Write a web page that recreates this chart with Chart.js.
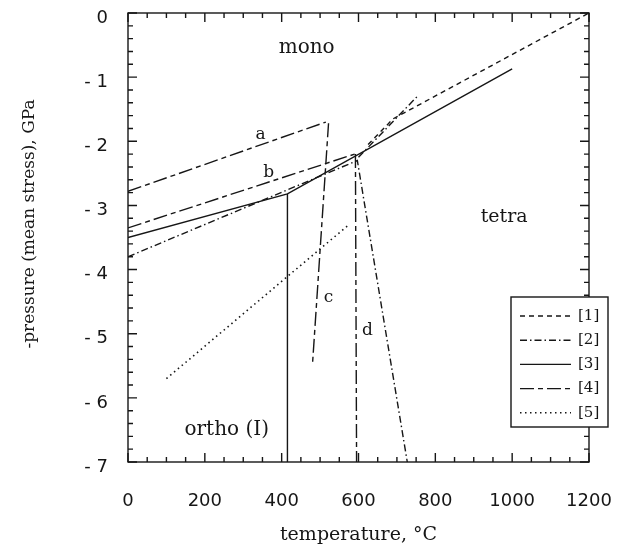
<!DOCTYPE html>
<html>
<head>
<meta charset="utf-8">
<title>Phase diagram</title>
<script src="https://cdn.jsdelivr.net/npm/chart.js@4.4.1/dist/chart.umd.min.js"></script>
<style>
  html, body { margin: 0; padding: 0; background: #fff; }
  #wrap { position: relative; width: 623px; height: 552px; }
</style>
</head>
<body>
<div id="wrap"><canvas id="chart" width="623" height="552"></canvas></div>
<script>
/* ------------------------------------------------------------
   Phase boundaries: temperature (°C) vs -pressure (GPa)
   ------------------------------------------------------------ */

// [1] short dashes
const line1Temp  = [625, 690, 1200];
const line1Press = [-2.05, -1.65, 0];

// [2] dash-dot (lower branch + upper branch)
const line2LowTemp  = [0, 597, 727];
const line2LowPress = [-3.8, -2.3, -7];
const line2UpTemp   = [600, 753];
const line2UpPress  = [-2.25, -1.3];

// [3] solid
const line3Temp      = [0, 415, 1000];
const line3Press     = [-3.5, -2.82, -0.87];
const line3VertTemp  = [415, 415];
const line3VertPress = [-2.82, -7];

// [4] long dash (branches a, b, c, d)
const line4aTemp  = [0, 515];
const line4aPress = [-2.78, -1.7];
const line4bTemp  = [0, 590];
const line4bPress = [-3.35, -2.2];
const line4cTemp  = [522, 480];
const line4cPress = [-1.72, -5.5];
const line4dTemp  = [592, 595];
const line4dPress = [-2.2, -7];

// [5] dotted
const line5Temp  = [100, 575];
const line5Press = [-5.7, -3.3];

// axes
const xTicks = [0, 200, 400, 600, 800, 1000, 1200];
const yTicks = [0, -1, -2, -3, -4, -5, -6, -7];
const legendLabels = ['[1]', '[2]', '[3]', '[4]', '[5]'];
const yTitle = '-pressure (mean stress), GPa';

const INK = '#161616';
const DASH = {
    1: [5, 4],
    2: [7, 3, 1.5, 3],
    3: [],
    4: [14, 4, 5, 4],
    5: [1.5, 3.5]
};

const toPoints = (xs, ys) => xs.map((x, i) => ({ x: x, y: ys[i] }));

function segment(xs, ys, style) {
    return {
        data: toPoints(xs, ys),
        showLine: true,
        borderColor: INK,
        borderWidth: style === 5 ? 1.6 : 1.4,
        borderDash: DASH[style],
        pointRadius: 0,
        fill: false
    };
}

// text written inside the plot, placed in data units
const annotations = [
    { text: 'mono',      x: 465, y: -0.55, size: 20 },
    { text: 'tetra',     x: 979, y: -3.18, size: 19 },
    { text: 'ortho (I)', x: 257, y: -6.5,  size: 20 },
    { text: 'a',         x: 345, y: -1.9,  size: 17 },
    { text: 'b',         x: 366, y: -2.49, size: 17 },
    { text: 'c',         x: 522, y: -4.44, size: 17 },
    { text: 'd',         x: 623, y: -4.95, size: 17 }
];

// axes keep a fixed size, no extra room for edge labels
function fixedBox(size) {
    return s => {
        if (s.isHorizontal()) s.height = size; else s.width = size;
        s.paddingLeft = s.paddingRight = s.paddingTop = s.paddingBottom = 0;
    };
}

// inward tick marks on all four sides + frame
const framePlugin = {
    id: 'frame',
    afterDatasetsDraw(chart) {
        const { ctx, chartArea: a, scales } = chart;
        ctx.save();
        ctx.strokeStyle = INK;
        ctx.lineWidth = 1.4;
        ctx.setLineDash([]);
        ctx.strokeRect(a.left, a.top, a.right - a.left, a.bottom - a.top);

        ctx.beginPath();
        for (let v = 0; v <= 1200; v += 50) {
            const px = scales.x.getPixelForValue(v);
            const len = v % 200 === 0 ? 9 : 5;
            ctx.moveTo(px, a.bottom); ctx.lineTo(px, a.bottom - len);
            ctx.moveTo(px, a.top);    ctx.lineTo(px, a.top + len);
        }
        for (let i = 0; i <= 35; i++) {
            const v = -i * 0.2;
            const py = scales.y.getPixelForValue(v);
            const len = i % 5 === 0 ? 9 : 5;
            ctx.moveTo(a.left, py);  ctx.lineTo(a.left + len, py);
            ctx.moveTo(a.right, py); ctx.lineTo(a.right - len, py);
        }
        ctx.stroke();

        // region and branch labels
        ctx.fillStyle = INK;
        ctx.textAlign = 'center';
        ctx.textBaseline = 'middle';
        annotations.forEach(t => {
            ctx.font = t.size + 'px "DejaVu Serif"';
            ctx.fillText(t.text, scales.x.getPixelForValue(t.x), scales.y.getPixelForValue(t.y));
        });

        // vertical axis title, a little above the axis middle
        ctx.save();
        ctx.translate(30, 224);
        ctx.rotate(-Math.PI / 2);
        ctx.font = '17px "DejaVu Serif"';
        ctx.fillText(yTitle, 0, 0);
        ctx.restore();
        ctx.restore();
    },
    afterDraw(chart) {
        // legend box, sits over the right axis
        const { ctx } = chart;
        const box = { left: 511, top: 297, right: 608, bottom: 427 };
        ctx.save();
        ctx.fillStyle = '#fff';
        ctx.fillRect(box.left, box.top, box.right - box.left, box.bottom - box.top);
        ctx.strokeStyle = INK;
        ctx.lineWidth = 1.4;
        ctx.strokeRect(box.left, box.top, box.right - box.left, box.bottom - box.top);

        ctx.font = '15px "DejaVu Serif"';
        ctx.fillStyle = INK;
        ctx.textAlign = 'left';
        ctx.textBaseline = 'middle';
        legendLabels.forEach((lab, i) => {
            const y = 316 + i * 24.2;
            ctx.beginPath();
            ctx.setLineDash(DASH[i + 1]);
            ctx.lineWidth = i === 4 ? 1.6 : 1.4;
            ctx.moveTo(520, y);
            ctx.lineTo(571, y);
            ctx.stroke();
            ctx.setLineDash([]);
            ctx.fillText(lab, 578, y);
        });
        ctx.restore();
    }
};

const tickFont = { family: '"DejaVu Sans"', size: 18 };

new Chart(document.getElementById('chart'), {
    type: 'scatter',
    data: {
        datasets: [
            segment(line1Temp, line1Press, 1),
            segment(line2LowTemp, line2LowPress, 2),
            segment(line2UpTemp, line2UpPress, 2),
            segment(line3Temp, line3Press, 3),
            segment(line3VertTemp, line3VertPress, 3),
            segment(line4aTemp, line4aPress, 4),
            segment(line4bTemp, line4bPress, 4),
            segment(line4cTemp, line4cPress, 4),
            segment(line4dTemp, line4dPress, 4),
            segment(line5Temp, line5Press, 5)
        ]
    },
    options: {
        responsive: false,
        animation: false,
        layout: { padding: { left: 0, right: 34, top: 13, bottom: 0 } },
        plugins: {
            legend: { display: false },
            tooltip: { enabled: false }
        },
        scales: {
            x: {
                type: 'linear',
                min: 0,
                max: 1200,
                afterBuildTicks: s => { s.ticks = xTicks.map(v => ({ value: v })); },
                afterFit: fixedBox(90),
                grid: { display: false, drawTicks: false },
                border: { display: false },
                ticks: {
                    padding: 29,
                    maxRotation: 0,
                    color: INK,
                    font: tickFont,
                    callback: v => String(v)
                },
                title: {
                    display: true,
                    text: 'temperature, °C',
                    color: INK,
                    font: { family: '"DejaVu Serif"', size: 19 },
                    padding: { top: 0, bottom: 6 }
                }
            },
            y: {
                type: 'linear',
                min: -7,
                max: 0,
                afterBuildTicks: s => { s.ticks = yTicks.map(v => ({ value: v })); },
                afterFit: fixedBox(128),
                grid: { display: false, drawTicks: false },
                border: { display: false },
                ticks: {
                    padding: 20,
                    labelOffset: 5,
                    color: INK,
                    font: tickFont,
                    callback: v => v === 0 ? '0' : '- ' + Math.abs(v)
                }
            }
        }
    },
    plugins: [framePlugin]
});
</script>
</body>
</html>
